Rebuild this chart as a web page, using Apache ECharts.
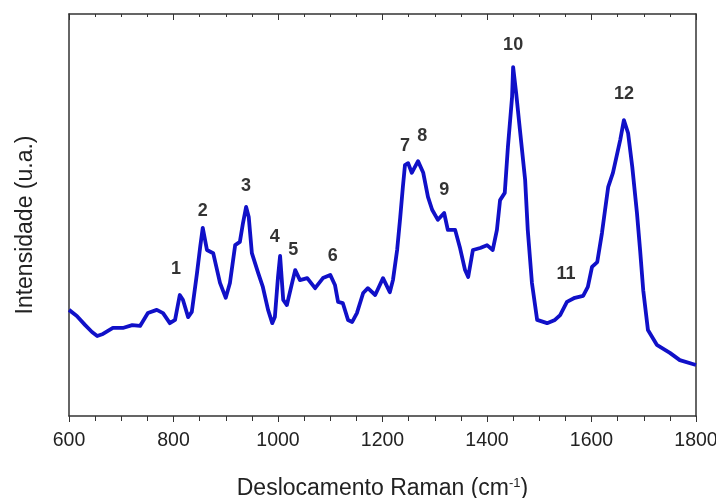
<!DOCTYPE html>
<html>
<head>
<meta charset="utf-8">
<script src="https://cdn.jsdelivr.net/npm/echarts@6/dist/echarts.min.js"></script>
<style>html,body{margin:0;padding:0;background:#fff}#c{width:716px;height:498px}</style>
</head>
<body>
<div id="c"></div>
<script>
// Raman shift (cm^-1)
const shift = [600,615,631,644,654,665,684,703,721,736,751,768,780,793,803,812,818,828,835,845,851,856,864,876,889,900,908,918,927,933,939,944,950,962,971,981,989,994,1000,1004,1010,1017,1027,1033,1042,1056,1071,1086,1100,1109,1115,1124,1134,1142,1151,1163,1172,1186,1201,1214,1220,1228,1234,1239,1243,1249,1256,1268,1278,1287,1295,1306,1318,1325,1339,1348,1358,1364,1373,1387,1400,1411,1419,1425,1434,1440,1448,1450,1456,1463,1473,1478,1486,1496,1515,1530,1540,1553,1568,1584,1593,1601,1611,1620,1626,1632,1641,1655,1662,1670,1678,1687,1693,1699,1708,1725,1750,1769,1800];
// Intensity (a.u.)
const intensity = [26.4,24.9,22.6,20.9,19.9,20.4,21.9,21.9,22.6,22.4,25.6,26.4,25.6,23.1,23.9,30.1,28.9,24.6,25.9,35.6,42.0,46.8,41.3,40.5,33.1,29.4,33.1,42.5,43.3,48.0,52.0,49.5,40.5,35.6,32.1,26.4,23.1,24.6,34.6,39.8,28.9,27.6,33.1,36.3,33.8,34.3,31.8,34.3,35.1,32.6,28.4,28.1,23.9,23.4,25.6,30.6,31.8,30.1,34.3,30.8,33.8,41.3,49.5,57.0,62.4,62.9,60.5,63.4,60.5,54.5,51.3,48.8,50.5,46.3,46.3,42.0,36.3,34.6,41.3,41.8,42.5,41.3,46.3,53.7,55.5,66.9,79.4,86.8,80.1,71.2,58.7,46.3,33.1,23.9,23.1,23.9,25.1,28.4,29.4,29.9,32.1,37.1,38.3,45.5,51.3,57.0,60.5,68.7,73.6,70.4,62.0,50.5,41.3,31.3,21.4,17.7,15.7,13.9,12.7];
// Peak labels
const peakNames = ['1','2','3','4','5','6','7','8','9','10','11','12'];
const peakX = [805,856,939,994,1029,1105,1243,1276,1318,1450,1551,1662];
const peakY = [36.6,51.0,57.2,44.5,41.3,39.8,67.2,69.7,56.2,92.3,35.3,80.1];
const xTicks = [600,800,1000,1200,1400,1600,1800];

const chart = echarts.init(document.getElementById('c'), null, {renderer:'canvas'});
const axisCol = '#333';
const font = 'Liberation Sans, Arial';
chart.setOption({
  animation:false,
  backgroundColor:'#fff',
  grid:{left:69, top:14, right:20, bottom:82, containLabel:false, outerBoundsMode:'none'},
  xAxis:[{
    type:'value', min:xTicks[0], max:xTicks[xTicks.length-1], interval:200,
    axisLine:{show:true, onZero:false, lineStyle:{color:axisCol, width:1.5}},
    axisTick:{show:true, inside:false, length:6, lineStyle:{color:axisCol}},
    minorTick:{show:true, splitNumber:4, length:5, lineStyle:{color:axisCol}},
    splitLine:{show:false},
    axisLabel:{color:'#222', fontSize:19.5, fontFamily:font, margin:15, formatter:v=>String(v)},
    name:'Deslocamento Raman (cm{sup|-1})',
    nameLocation:'middle', nameGap:61,
    nameTextStyle:{color:'#222', fontSize:23, fontFamily:font,
      rich:{sup:{fontSize:13, fontFamily:font, verticalAlign:'top', padding:[0,0,10,0], color:'#222'}}}
  },{
    type:'value', position:'top', min:600, max:1800, interval:200,
    axisLine:{show:true, onZero:false, lineStyle:{color:axisCol, width:1.5}},
    axisTick:{show:true, inside:true, length:6, lineStyle:{color:axisCol}},
    minorTick:{show:true, splitNumber:4, length:3, lineStyle:{color:axisCol}},
    splitLine:{show:false}, axisLabel:{show:false}
  }],
  yAxis:[{
    type:'value', min:0, max:100,
    axisLine:{show:true, onZero:false, lineStyle:{color:axisCol, width:1.5}},
    axisTick:{show:false}, axisLabel:{show:false}, splitLine:{show:false},
    name:'Intensidade (u.a.)', nameLocation:'middle', nameGap:32,
    nameTextStyle:{color:'#222', fontSize:23, fontFamily:font, padding:[0,20,0,0]}
  },{
    type:'value', min:0, max:100, position:'right',
    axisLine:{show:true, onZero:false, lineStyle:{color:axisCol, width:1.5}},
    axisTick:{show:false}, axisLabel:{show:false}, splitLine:{show:false}
  }],
  series:[{
    type:'line', data:shift.map((x,i)=>[x,intensity[i]]),
    showSymbol:false, symbol:'none',
    lineStyle:{color:'#1010c8', width:3.8, join:'round'}
  },{
    type:'scatter', data:peakX.map((x,i)=>[x,peakY[i],peakNames[i]]),
    symbolSize:1, itemStyle:{color:'rgba(0,0,0,0)'},
    label:{show:true, position:'inside', formatter:p=>p.data[2],
      color:'#000', fontSize:18, fontWeight:'bold', fontFamily:font}
  }]
});
</script>
</body>
</html>
